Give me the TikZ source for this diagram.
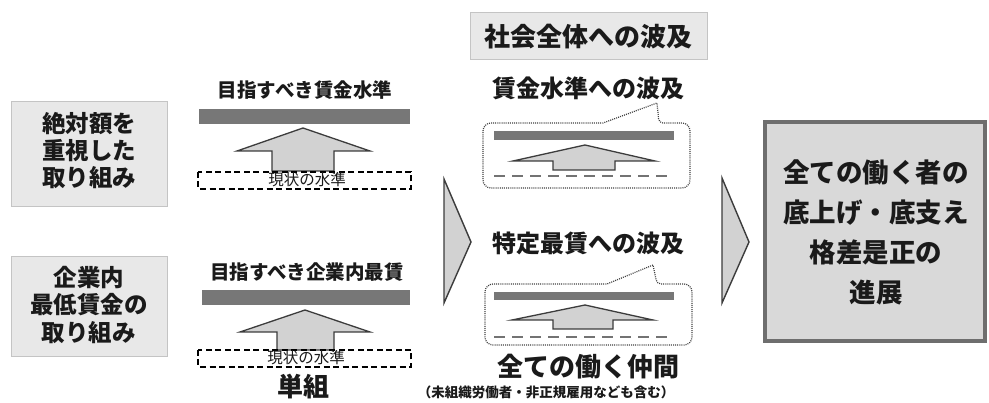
\documentclass[tikz,border=0pt]{standalone}
\usepackage{fontspec}
\setmainfont{Noto Sans CJK JP}
\definecolor{boxfill}{HTML}{E8E8E8}
\definecolor{boxline}{HTML}{C4C4C4}
\definecolor{barcol}{HTML}{777777}
\definecolor{arrfill}{HTML}{D2D2D2}
\definecolor{arrline}{HTML}{3C3C3C}
\definecolor{bigfill}{HTML}{D9D9D9}
\definecolor{bigline}{HTML}{6E6E6E}
\definecolor{txt}{HTML}{1A1A1A}
\tikzset{
  sidebox/.style={fill=boxfill,draw=boxline,line width=1pt},
  bar/.style={fill=barcol,draw=none},
  uparrow/.style={fill=arrfill,draw=arrline,line width=1.3pt,line join=miter},
  nowbox/.style={draw=black,line width=1.2pt,dash pattern=on 6pt off 3.5pt},
  callout/.style={draw=black!75,line width=1.2pt,dash pattern=on 1pt off 1.1pt},
  graydash/.style={draw=black!55,line width=2pt,dash pattern=on 11pt off 7pt},
  chevron/.style={fill=arrfill,draw=arrline,line width=1.4pt,line join=miter},
  lbl/.style={text=txt,font=\bfseries,align=center,inner sep=0pt},
}
\begin{document}
\begin{tikzpicture}[x=1pt,y=-1pt]
\useasboundingbox (0,0) rectangle (989,403);
\fill[white] (0,0) rectangle (989,403);

% left boxes
\draw[sidebox] (11,102) rectangle (167,207);
\node[lbl,font=\bfseries\fontsize{23.5}{27}\selectfont] (l1) at (89,151) {絶対額を\\重視した\\取り組み};
\draw[sidebox] (11,257) rectangle (167,357);
\node[lbl,font=\bfseries\fontsize{23.5}{27.5}\selectfont] (l2) at (89,305) {企業内\\最低賃金の\\取り組み};

% middle column, upper
\node[lbl,font=\bfseries\fontsize{19.5}{22}\selectfont] (t1) at (305,90) {目指すべき賃金水準};
\draw[bar] (199,109) rectangle (410,124);
\draw[uparrow] (303,128) -- (370,151) -- (334,151) -- (334,171) -- (272,171) -- (272,151) -- (237,151) -- cycle;
\draw[nowbox] (198,172) rectangle (411,189);
\node[text=txt,inner sep=0pt,font=\fontsize{15.5}{17}\selectfont] (n1) at (307,180) {現状の水準};

% middle column, lower
\node[lbl,font=\bfseries\fontsize{19.5}{22}\selectfont] (t2) at (307,272) {目指すべき企業内最賃};
\draw[bar] (202,290) rectangle (410,305);
\draw[uparrow] (305,310) -- (370,332) -- (334,332) -- (334,350) -- (277,350) -- (277,332) -- (240,332) -- cycle;
\draw[nowbox] (198,350) rectangle (411,367);
\node[text=txt,inner sep=0pt,font=\fontsize{15.5}{17}\selectfont] (n2) at (306,358) {現状の水準};
\node[lbl,font=\bfseries\fontsize{26}{28}\selectfont] (tan) at (303,387) {単組};

% chevrons
\draw[chevron] (444,179) -- (471,242) -- (444,303) -- cycle;
\draw[chevron] (722,178) -- (749,242) -- (722,303) -- cycle;

% center column
\draw[sidebox] (470,13) rectangle (707,60);
\node[lbl,font=\bfseries\fontsize{26}{28}\selectfont] (soc) at (588,37) {社会全体への波及};
\node[lbl,font=\bfseries\fontsize{24}{26}\selectfont] (c1) at (588,88) {賃金水準への波及};

\draw[callout] (483,150) [rounded corners=8pt] -- (483,123) [sharp corners] -- (603,123) -- (657,103) [rounded corners=4pt] -- (659,123) [rounded corners=8pt] -- (690,123) -- (690,188) -- (483,188) -- (483,150);
\draw[bar] (494,131) rectangle (674,140);
\draw[uparrow] (585,145) -- (655,161) -- (615,161) -- (615,170) -- (553,170) -- (553,161) -- (513,161) -- cycle;
\draw[graydash] (494,176) -- (674,176);

\node[lbl,font=\bfseries\fontsize{24}{26}\selectfont] (c2) at (588,243) {特定最賃への波及};

\draw[callout] (485,310) [rounded corners=8pt] -- (485,284) [sharp corners] -- (607,284) -- (653,265) [rounded corners=4pt] -- (657,284) [rounded corners=8pt] -- (692,284) -- (692,345) -- (485,345) -- (485,310);
\draw[bar] (494,292) rectangle (674,300);
\draw[uparrow] (585,305) -- (653,320) -- (613,320) -- (613,329) -- (553,329) -- (553,320) -- (512,320) -- cycle;
\draw[graydash] (494,337) -- (674,337);

\node[lbl,font=\bfseries\fontsize{26}{28}\selectfont] (all) at (588,367) {全ての働く仲間};
\node[lbl,font=\bfseries\fontsize{13.5}{15}\selectfont] (sub) at (546,392) {（未組織労働者・非正規雇用なども含む）};

% right box
\draw[fill=bigfill,draw=bigline,line width=4pt] (765,122) rectangle (985,341);
\node[lbl,font=\bfseries\fontsize{26.5}{40}\selectfont] (res) at (876,232) {全ての働く者の\\底上げ・底支え\\格差是正の\\進展};
\end{tikzpicture}
\end{document}
